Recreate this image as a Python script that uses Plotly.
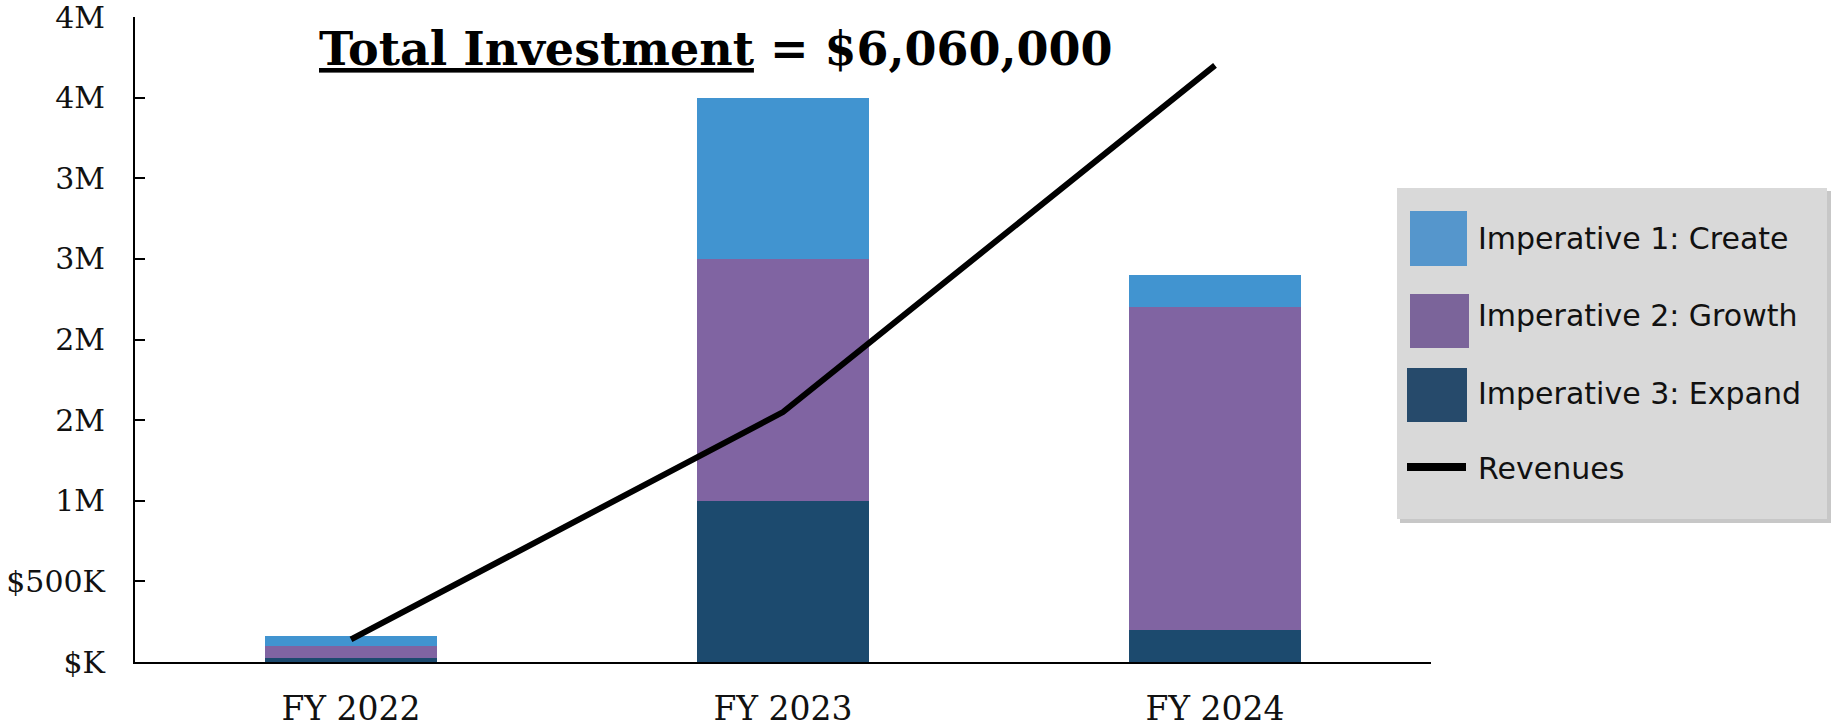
import plotly.graph_objects as go

# ---------------- data ----------------
categories = ["FY 2022", "FY 2023", "FY 2024"]
imperative3_expand = [25000, 1000000, 200000]
imperative2_growth = [75000, 1500000, 2000000]
imperative1_create = [60000, 1000000, 200000]
revenues = [140000, 1550000, 3700000]

y_tickvals = [0, 500000, 1000000, 1500000, 2000000, 2500000, 3000000, 3500000, 4000000]
y_ticktext = ["$K", "$500K", "1M", "2M", "2M", "3M", "3M", "4M", "4M"]

title_text = "<b><u>Total Investment</u> = $6,060,000</b>"
legend_labels = ["Imperative 1: Create", "Imperative 2: Growth", "Imperative 3: Expand", "Revenues"]

# ---------------- styles ----------------
C_CREATE = "#4194D0"
C_GROWTH = "#8064A2"
C_EXPAND = "#1C4A6E"
LEG_CREATE = "#5596CC"
LEG_GROWTH = "#7B649A"
LEG_EXPAND = "#264A6B"

W, H = 1835, 728
ML, MR, MT, MB = 135, 404, 17, 66
PW = W - ML - MR
PH = H - MT - MB


def px(x):
    return (x - ML) / PW


def py(y):
    return (H - MB - y) / PH


fig = go.Figure()
fig.add_trace(go.Bar(x=categories, y=imperative3_expand, name=legend_labels[2],
                     marker=dict(color=C_EXPAND, line=dict(width=0)), width=0.4))
fig.add_trace(go.Bar(x=categories, y=imperative2_growth, name=legend_labels[1],
                     marker=dict(color=C_GROWTH, line=dict(width=0)), width=0.4))
fig.add_trace(go.Bar(x=categories, y=imperative1_create, name=legend_labels[0],
                     marker=dict(color=C_CREATE, line=dict(width=0)), width=0.4))
fig.add_trace(go.Scatter(x=categories, y=revenues, name=legend_labels[3], mode="lines",
                         line=dict(color="black", width=6)))

shapes = []
annotations = []

# legend box with shadow
shapes.append(dict(type="rect", xref="paper", yref="paper",
                   x0=px(1400), x1=px(1831), y0=py(523), y1=py(191),
                   fillcolor="rgba(0,0,0,0.22)", line=dict(width=0), layer="above"))
shapes.append(dict(type="rect", xref="paper", yref="paper",
                   x0=px(1397), x1=px(1827), y0=py(519), y1=py(188),
                   fillcolor="#D9D9D9", line=dict(width=0), layer="above"))

swatches = [
    (1410, 1467, 211, 266, LEG_CREATE),
    (1410, 1469, 294, 348, LEG_GROWTH),
    (1407, 1467, 368, 422, LEG_EXPAND),
]
for x0, x1, y0, y1, c in swatches:
    shapes.append(dict(type="rect", xref="paper", yref="paper",
                       x0=px(x0), x1=px(x1), y0=py(y1), y1=py(y0),
                       fillcolor=c, line=dict(width=0), layer="above"))
shapes.append(dict(type="line", xref="paper", yref="paper",
                   x0=px(1407), x1=px(1466), y0=py(467), y1=py(467),
                   line=dict(color="black", width=8), layer="above"))

for lbl, yc in zip(legend_labels, [238, 315, 393, 468]):
    annotations.append(dict(text=lbl, xref="paper", yref="paper", x=px(1476), y=py(yc),
                            xanchor="left", yanchor="middle", showarrow=False,
                            font=dict(family="DejaVu Sans", size=30, color="#111111")))

annotations.append(dict(text=title_text, xref="paper", yref="paper", x=px(716), y=py(49),
                        xanchor="center", yanchor="middle", showarrow=False,
                        font=dict(family="DejaVu Serif", size=46, color="black")))

fig.update_layout(
    width=W, height=H,
    margin=dict(l=ML, r=MR, t=MT, b=MB, autoexpand=False),
    barmode="stack",
    plot_bgcolor="white", paper_bgcolor="white",
    showlegend=False,
    shapes=shapes,
    annotations=annotations,
    xaxis=dict(range=[-0.5, 2.5], showline=True, linecolor="black", linewidth=2,
               ticks="", showgrid=False, zeroline=False, automargin=False,
               tickfont=dict(family="DejaVu Serif", size=33, color="#111111"),
               ticklabelstandoff=16, ticklabeloverflow="allow"),
    yaxis=dict(range=[0, 4000000], tickvals=y_tickvals, ticktext=y_ticktext,
               showline=True, linecolor="black", linewidth=2,
               ticks="inside", ticklen=10, tickwidth=2, tickcolor="black",
               showgrid=False, zeroline=False, automargin=False,
               tickfont=dict(family="DejaVu Serif", size=30, color="#111111"),
               ticklabelstandoff=22, ticklabeloverflow="allow"),
)

fig.write_html(
    "out.html",
    config={"displayModeBar": False},
    post_script="document.body.style.margin='0';document.body.style.overflow='hidden';",
)
